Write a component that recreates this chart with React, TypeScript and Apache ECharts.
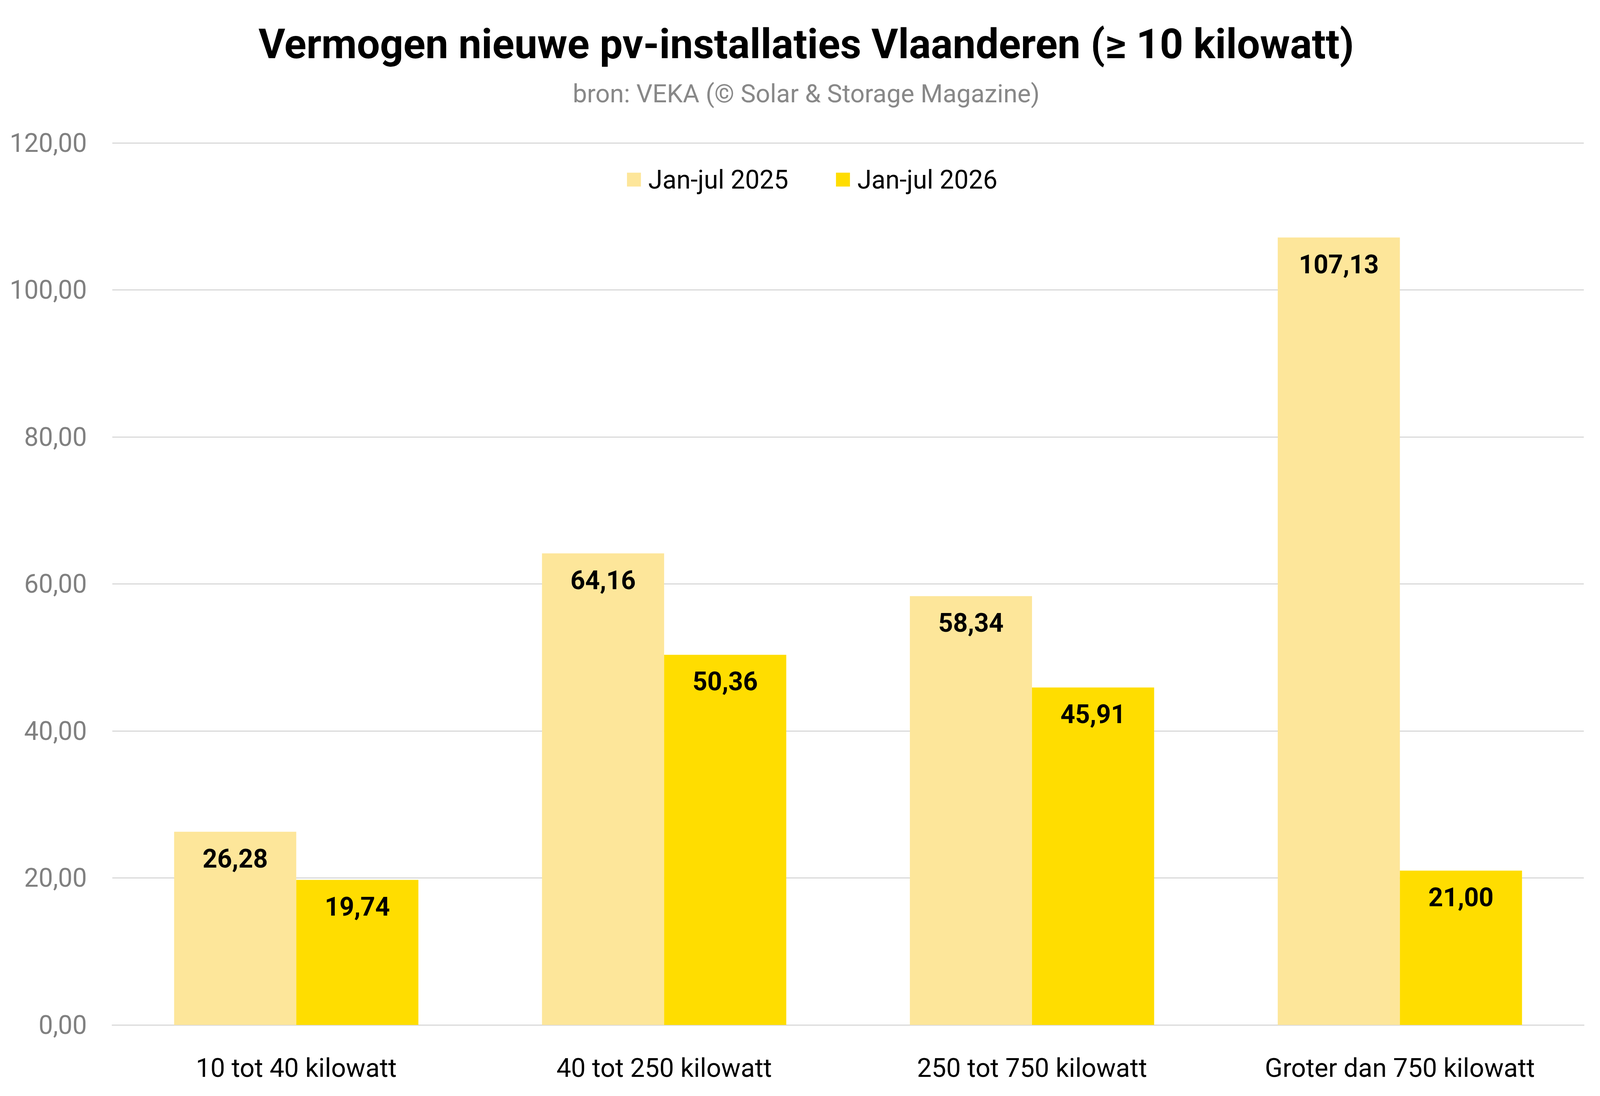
import { useEffect, useRef } from 'react';
import * as echarts from 'echarts';

const categories = [
  '10 tot 40 kilowatt',
  '40 tot 250 kilowatt',
  '250 tot 750 kilowatt',
  'Groter dan 750 kilowatt',
];
const series2025 = [26.28, 64.16, 58.34, 107.13];
const series2026 = [19.74, 50.36, 45.91, 21.0];
const seriesNames = ['Jan-jul 2025', 'Jan-jul 2026'];
const colors = ['#FDE69A', '#FFDD00'];

const fmt = (v: number) => v.toFixed(2).replace('.', ',');
const FONT = 'Roboto';
// layout was measured on a 5043x2807 picture; scaled to the real viewport
const REF_W = 5043;
const REF_H = 2807;

function buildOption(w: number, h: number) {
  const sx = w / REF_W;
  const sy = h / REF_H;
  const s = Math.min(sx, sy);
  const X = (v: number) => v * sx;
  const Y = (v: number) => v * sy;
  const F = (v: number) => v * s;

  const label = {
    show: true,
    position: 'insideTop',
    distance: Y(36),
    formatter: (p: any) => fmt(p.value),
    color: '#000',
    fontFamily: FONT,
    fontWeight: 'bold',
    fontSize: F(81),
  };

  return {
    animation: false,
    backgroundColor: '#fff',
    textStyle: { fontFamily: FONT },
    title: [
      {
        text: 'Vermogen nieuwe pv-installaties Vlaanderen (≥ 10 kilowatt)',
        left: X(2535),
        textAlign: 'center',
        top: Y(56),
        textStyle: {
          fontFamily: FONT,
          fontWeight: 'bold',
          fontSize: F(129),
          color: '#000',
        },
      },
      {
        text: 'bron: VEKA (© Solar & Storage Magazine)',
        left: X(2535),
        textAlign: 'center',
        top: Y(202),
        textStyle: {
          fontFamily: FONT,
          fontWeight: 'normal',
          fontSize: F(80),
          color: '#888888',
        },
      },
    ],
    legend: {
      data: seriesNames,
      left: X(1970),
      top: Y(422),
      itemWidth: F(44),
      itemHeight: F(44),
      itemGap: X(150),
      icon: 'rect',
      textStyle: {
        fontFamily: FONT,
        fontSize: F(81),
        color: '#000',
        padding: [0, 0, 0, X(17)],
      },
    },
    grid: { left: X(354), right: X(51), top: Y(366), bottom: Y(182), containLabel: false },
    xAxis: {
      type: 'category',
      data: categories,
      axisTick: { show: false },
      axisLine: { show: true, lineStyle: { color: '#d9d9d9', width: F(4) } },
      axisLabel: {
        color: '#000',
        fontFamily: FONT,
        fontSize: F(82),
        margin: Y(76),
      },
    },
    yAxis: {
      type: 'value',
      min: 0,
      max: 120,
      interval: 20,
      axisLine: { show: false },
      axisTick: { show: false },
      splitLine: { lineStyle: { color: '#d9d9d9', width: F(4) } },
      axisLabel: {
        color: '#808080',
        fontFamily: FONT,
        fontSize: F(81),
        margin: X(80),
        formatter: (v: number) => fmt(v),
      },
    },
    series: [
      {
        name: seriesNames[0],
        type: 'bar',
        data: series2025,
        itemStyle: { color: colors[0] },
        barGap: '0%',
        barCategoryGap: '33.6%',
        label,
      },
      {
        name: seriesNames[1],
        type: 'bar',
        data: series2026,
        itemStyle: { color: colors[1] },
        barGap: '0%',
        barCategoryGap: '33.6%',
        label,
      },
    ],
  };
}

export default function App() {
  const chartRef = useRef<HTMLDivElement>(null);

  useEffect(() => {
    const el = chartRef.current;
    if (!el) return;
    document.body.style.margin = '0';
    document.documentElement.style.overflow = 'hidden';
    const chart = echarts.init(el, null, { renderer: 'svg' });

    const render = () => {
      chart.resize();
      chart.setOption(buildOption(el.clientWidth, el.clientHeight), { notMerge: true });
    };
    render();
    window.addEventListener('resize', render);

    return () => {
      window.removeEventListener('resize', render);
      chart.dispose();
    };
  }, []);

  return (
    <div
      ref={chartRef}
      style={{ position: 'fixed', left: 0, top: 0, width: '100vw', height: '100vh' }}
    />
  );
}
